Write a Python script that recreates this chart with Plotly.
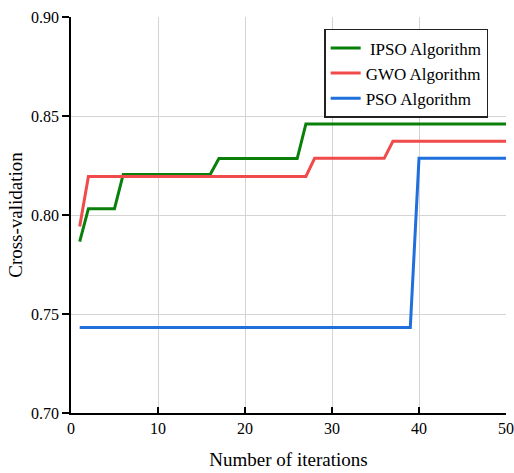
import plotly.graph_objects as go

iterations = list(range(1, 51))

ipso = [0.7865,
        0.8032, 0.8032, 0.8032, 0.8032,
        0.8205, 0.8205, 0.8205, 0.8205, 0.8205, 0.8205, 0.8205, 0.8205, 0.8205, 0.8205, 0.8205,
        0.8285, 0.8285, 0.8285, 0.8285, 0.8285, 0.8285, 0.8285, 0.8285, 0.8285, 0.8285,
        0.8460, 0.8460, 0.8460, 0.8460, 0.8460, 0.8460, 0.8460, 0.8460, 0.8460, 0.8460,
        0.8460, 0.8460, 0.8460, 0.8460, 0.8460, 0.8460, 0.8460, 0.8460, 0.8460, 0.8460,
        0.8460, 0.8460, 0.8460, 0.8460]

gwo = [0.7942,
       0.8195, 0.8195, 0.8195, 0.8195, 0.8195, 0.8195, 0.8195, 0.8195, 0.8195, 0.8195,
       0.8195, 0.8195, 0.8195, 0.8195, 0.8195, 0.8195, 0.8195, 0.8195, 0.8195, 0.8195,
       0.8195, 0.8195, 0.8195, 0.8195, 0.8195, 0.8195,
       0.8286, 0.8286, 0.8286, 0.8286, 0.8286, 0.8286, 0.8286, 0.8286, 0.8286,
       0.8372, 0.8372, 0.8372, 0.8372, 0.8372, 0.8372, 0.8372, 0.8372, 0.8372, 0.8372,
       0.8372, 0.8372, 0.8372, 0.8372]

pso = [0.7432, 0.7432, 0.7432, 0.7432, 0.7432, 0.7432, 0.7432, 0.7432, 0.7432, 0.7432,
       0.7432, 0.7432, 0.7432, 0.7432, 0.7432, 0.7432, 0.7432, 0.7432, 0.7432, 0.7432,
       0.7432, 0.7432, 0.7432, 0.7432, 0.7432, 0.7432, 0.7432, 0.7432, 0.7432, 0.7432,
       0.7432, 0.7432, 0.7432, 0.7432, 0.7432, 0.7432, 0.7432, 0.7432, 0.7432,
       0.8286, 0.8286, 0.8286, 0.8286, 0.8286, 0.8286, 0.8286, 0.8286, 0.8286, 0.8286,
       0.8286]

series_names = [" IPSO Algorithm", "GWO Algorithm", "PSO Algorithm"]
series_colors = ["#0a800a", "#f04a4a", "#1f6fdc"]
x_ticks = [0, 10, 20, 30, 40, 50]
y_ticks = [0.70, 0.75, 0.80, 0.85, 0.90]
y_tick_labels = ["0.70", "0.75", "0.80", "0.85", "0.90"]

font_family = "Times New Roman, Liberation Serif, serif"

fig = go.Figure()
for name, vals, col in zip(series_names, [ipso, gwo, pso], series_colors):
    fig.add_trace(go.Scatter(x=iterations, y=vals, mode="lines", name=name,
                             line=dict(color=col, width=3), cliponaxis=False))

fig.update_layout(
    width=514, height=473,
    margin=dict(l=71, r=8, t=17, b=60),
    paper_bgcolor="white", plot_bgcolor="white",
    font=dict(family=font_family, color="black", size=16),
    legend=dict(x=0.959, y=0.97, xanchor="right", yanchor="top",
                bordercolor="#222", borderwidth=1.5, bgcolor="white",
                font=dict(family=font_family, size=17, color="black"),
                tracegroupgap=0, itemwidth=30),
    xaxis=dict(range=[0, 50], tickvals=x_ticks, ticks="inside", ticklen=6,
               tickcolor="black", tickwidth=1.5, automargin=False,
               showline=True, linecolor="black", linewidth=1.5,
               showgrid=True, gridcolor="#d4d4d4", gridwidth=1,
               zeroline=False,
               tickfont=dict(family=font_family, size=16),
               title=dict(text="Number of iterations", font=dict(family=font_family, size=19),
                          standoff=17)),
    yaxis=dict(range=[0.70, 0.90], tickvals=y_ticks, ticktext=y_tick_labels,
               ticks="outside", ticklen=7, tickcolor="black", tickwidth=1.5, automargin=False,
               showline=True, linecolor="black", linewidth=1.5,
               showgrid=True, gridcolor="#d4d4d4", gridwidth=1,
               zeroline=False,
               tickfont=dict(family=font_family, size=16),
               title=dict(text="Cross-validation", font=dict(family=font_family, size=19),
                          standoff=3)),
)

fig.write_html("out.html")
